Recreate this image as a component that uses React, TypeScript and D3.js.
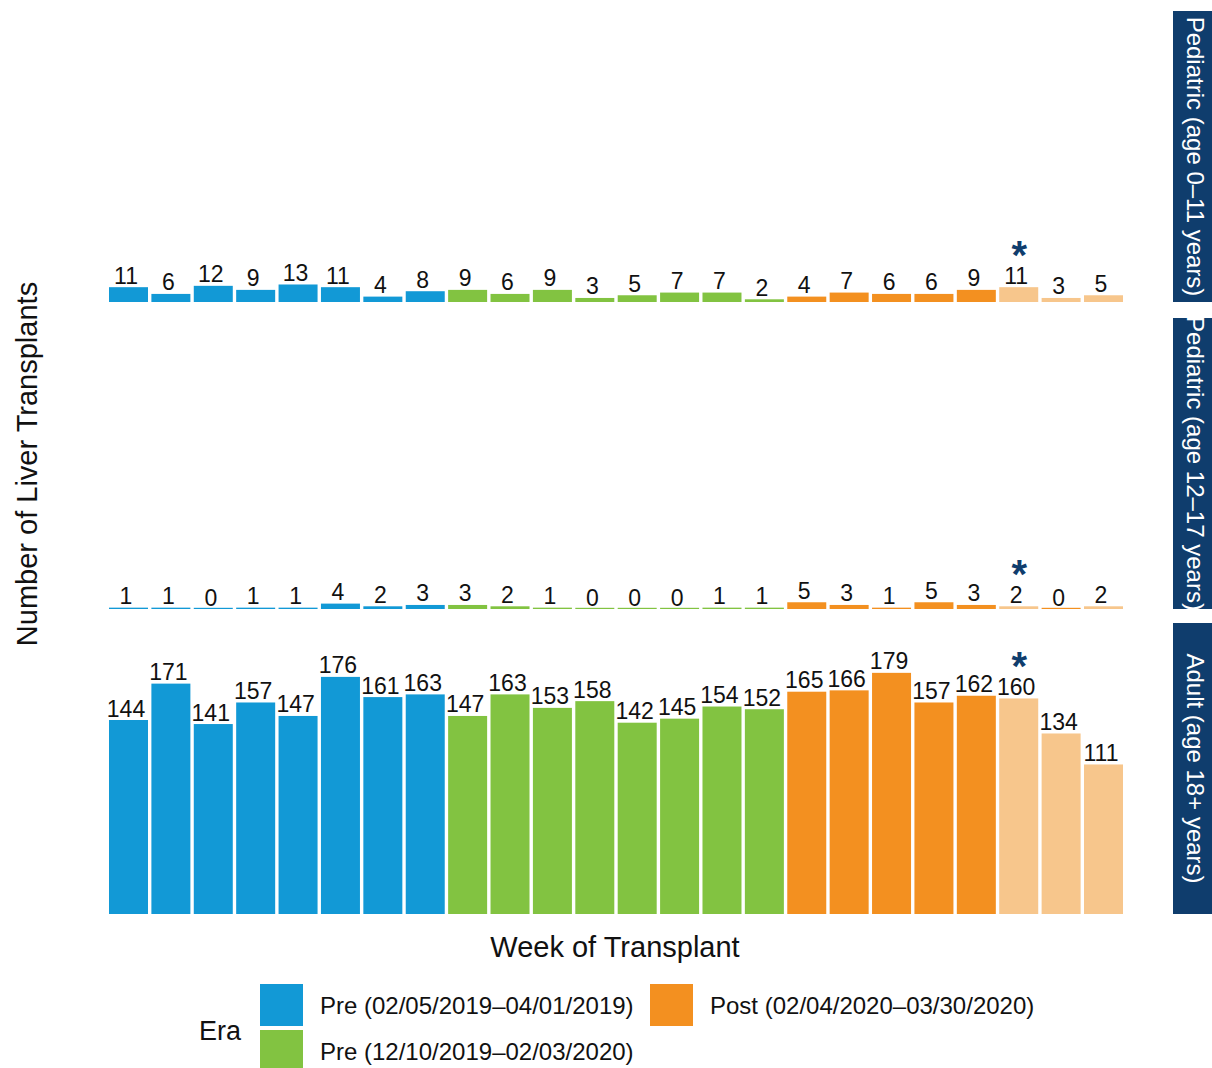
import React from "react";
import * as d3 from "d3";

// week of transplant (8 + 8 + 8 weeks)
const weeks = [1, 2, 3, 4, 5, 6, 7, 8, 9, 10, 11, 12, 13, 14, 15, 16, 17, 18, 19, 20, 21, 22, 23, 24];
const eraOfWeek = [
  "pre19", "pre19", "pre19", "pre19", "pre19", "pre19", "pre19", "pre19",
  "pre20", "pre20", "pre20", "pre20", "pre20", "pre20", "pre20", "pre20",
  "post", "post", "post", "post", "post", "post", "post", "post",
];
// last 3 weeks are incomplete (drawn faded)
const partialWeek = [
  false, false, false, false, false, false, false, false,
  false, false, false, false, false, false, false, false,
  false, false, false, false, false, true, true, true,
];
const starWeek = 22;

const panelNames = ["Pediatric (age 0\u201311 years)", "Pediatric (age 12\u201317 years)", "Adult (age 18+ years)"];
const ped0to11 = [11, 6, 12, 9, 13, 11, 4, 8, 9, 6, 9, 3, 5, 7, 7, 2, 4, 7, 6, 6, 9, 11, 3, 5];
const ped12to17 = [1, 1, 0, 1, 1, 4, 2, 3, 3, 2, 1, 0, 0, 0, 1, 1, 5, 3, 1, 5, 3, 2, 0, 2];
const adult = [144, 171, 141, 157, 147, 176, 161, 163, 147, 163, 153, 158, 142, 145, 154, 152, 165, 166, 179, 157, 162, 160, 134, 111];

const eraKeys = ["pre19", "pre20", "post"];
const eraLabels = ["Pre (02/05/2019\u201304/01/2019)", "Pre (12/10/2019\u201302/03/2020)", "Post (02/04/2020\u201303/30/2020)"];

const color = d3.scaleOrdinal<string, string>().domain(eraKeys).range(["#1299d6", "#82c341", "#f39020"]);
const fadedPost = "#f7c68c";
const navy = "#0f3d6d";
const font = "'Liberation Sans', Arial, Helvetica, sans-serif";

const W = 1212;
const H = 1068;
const panelTops = [11, 318, 623];
const panelH = 291;

export default function App() {
  const series = [ped0to11, ped12to17, adult];

  const x = d3.scaleBand<number>()
    .domain(weeks)
    .range([107.3, 1124.7])
    .paddingInner(0.08)
    .paddingOuter(0.04);
  const y = d3.scaleLinear().domain([0, 216]).range([panelH, 0]);

  const fillFor = (i: number, v: number) =>
    partialWeek[i] && v > 0 ? fadedPost : color(eraOfWeek[i]);

  return (
    <svg width={W} height={H} style={{ position: "absolute", left: 0, top: 0, background: "#fff" }} fontFamily={font}>
      {series.map((vals, p) => (
        <g key={p} transform={`translate(0,${panelTops[p]})`}>
          {vals.map((v, i) => {
            const wk = weeks[i];
            const bx = x(wk)!;
            const h = Math.max(panelH - y(v), 1.2);
            return (
              <rect key={i} x={bx} y={panelH - h} width={x.bandwidth()} height={h} fill={fillFor(i, v)} />
            );
          })}
          {vals.map((v, i) => {
            const cx = x(weeks[i])! + x.bandwidth() / 2 - 2.5;
            const base = y(v) - 3.5;
            return (
              <g key={"t" + i}>
                <text x={cx} y={base} textAnchor="middle" fontSize={23} fill="#111">{v}</text>
                {weeks[i] === starWeek && (
                  <text x={cx + 3} y={base - 15} textAnchor="middle" fontSize={40} fontWeight="bold" fill={navy}>*</text>
                )}
              </g>
            );
          })}
          {/* facet strip */}
          <rect x={1173} y={0} width={45} height={panelH} fill={navy} />
          <text
            transform={`translate(${1195},${panelH / 2}) rotate(90)`}
            textAnchor="middle"
            dominantBaseline="central"
            fontSize={24}
            fill="#fff"
          >
            {panelNames[p]}
          </text>
        </g>
      ))}

      {/* axis titles */}
      <text x={615} y={957} textAnchor="middle" fontSize={29} fill="#111">Week of Transplant</text>
      <text transform="translate(37,464) rotate(-90)" textAnchor="middle" fontSize={29} fill="#111">
        Number of Liver Transplants
      </text>

      {/* legend */}
      <text x={199} y={1040} fontSize={27} fill="#111">Era</text>
      {eraKeys.map((k, i) => {
        const col = i === 2 ? 1 : 0;
        const row = i === 2 ? 0 : i;
        const kx = col === 0 ? 260 : 650;
        const ky = 984 + row * 46;
        return (
          <g key={k}>
            <rect x={kx} y={ky} width={43} height={42} fill={color(k)} />
            <text x={kx + 60} y={ky + 30} fontSize={24} fill="#111">{eraLabels[i]}</text>
          </g>
        );
      })}
    </svg>
  );
}
